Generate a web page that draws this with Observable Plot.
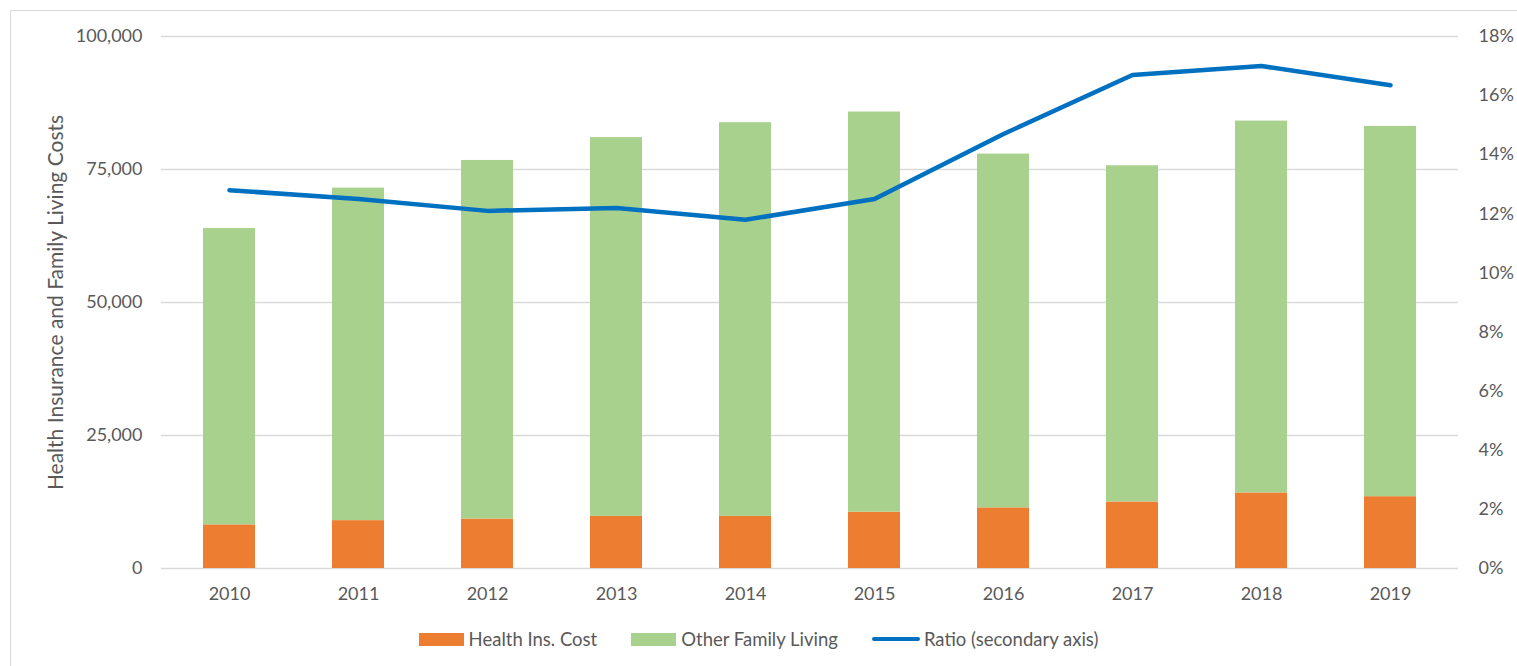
<!DOCTYPE html>
<html>
<head>
<meta charset="utf-8">
<script src="https://cdn.jsdelivr.net/npm/d3@7"></script>
<script src="https://cdn.jsdelivr.net/npm/@observablehq/plot@0.6"></script>
<style>
  html, body { margin: 0; padding: 0; background: #fff; }
  body { width: 1517px; height: 666px; position: relative; overflow: hidden; font-family: Lato, "Open Sans", sans-serif; color: #595959; }
  #frame { position: absolute; left: 10px; top: 10px; width: 1600px; height: 800px; border: 1.5px solid #d9d9d9; box-sizing: border-box; }
  #chart { position: absolute; left: 0; top: 0; }
  #chart g[aria-label="y-axis label"] text { font-size: 21px; }
  #legend { position: absolute; left: 0; top: 628px; width: 1517px; display: flex; justify-content: center; align-items: center; font-size: 18.5px; color: #595959; }
  .item { display: flex; align-items: center; margin: 0 17px; }
  .sw { width: 45px; height: 13px; margin-right: 5px; }
  .ln { width: 48px; height: 4px; border-radius: 2px; margin-right: 4px; }
</style>
</head>
<body>
<div id="frame"></div>
<div id="chart"></div>
<div id="legend"></div>
<script>
const years = ["2010","2011","2012","2013","2014","2015","2016","2017","2018","2019"];
const healthCost = [8200, 9000, 9300, 9800, 9800, 10600, 11400, 12500, 14200, 13500];
const otherLiving = [55700, 62500, 67400, 71200, 74000, 75200, 66500, 63200, 69900, 69600];
const ratioPct = [12.8, 12.5, 12.1, 12.2, 11.8, 12.5, 14.7, 16.7, 17.0, 16.35];
const leftTicks = [0, 25000, 50000, 75000, 100000];
const rightTicksPct = [0, 2, 4, 6, 8, 10, 12, 14, 16, 18];
const seriesNames = ["Health Ins. Cost", "Other Family Living"];
const seriesColors = ["#ED7D31", "#A9D18E"];
const lineName = "Ratio (secondary axis)";
const lineColor = "#0070C0";

const yMax = 100000, pctMax = 18;
const toY = p => p * yMax / pctMax;

const barData = [];
years.forEach((y, i) => {
  barData.push({year: y, series: seriesNames[0], value: healthCost[i]});
  barData.push({year: y, series: seriesNames[1], value: otherLiving[i]});
});
const lineData = years.map((y, i) => ({year: y, ratio: ratioPct[i]}));

const plot = Plot.plot({
  width: 1517,
  height: 620,
  marginTop: 36,
  marginBottom: 52,
  marginLeft: 161,
  marginRight: 59,
  style: {fontFamily: "Lato, 'Open Sans', sans-serif", fontSize: "18px", color: "#595959", background: "transparent", overflow: "visible"},
  x: {domain: years, paddingInner: 0.6, paddingOuter: 0.3, label: null},
  y: {domain: [0, yMax], label: null},
  color: {domain: seriesNames, range: seriesColors},
  marks: [
    Plot.gridY(leftTicks, {stroke: "#d9d9d9", strokeOpacity: 1, strokeWidth: 1.5}),
    Plot.barY(barData, {x: "year", y: "value", fill: "series", order: seriesNames}),
    Plot.lineY(lineData, {x: "year", y: d => toY(d.ratio), stroke: lineColor, strokeWidth: 4.5, strokeLinecap: "round", strokeLinejoin: "round"}),
    Plot.axisY(leftTicks, {anchor: "left", tickSize: 0, tickPadding: 19, tickFormat: d3.format(","),
      label: "Health Insurance and Family Living Costs", labelAnchor: "center", labelArrow: "none", labelOffset: 113, fill: "#595959"}),
    Plot.axisY(rightTicksPct.map(toY), {anchor: "right", tickSize: 0, tickPadding: 20,
      tickFormat: d => Math.round(d * pctMax / yMax) + "%", label: null, fill: "#595959"}),
    Plot.axisX({tickSize: 0, tickPadding: 19, label: null, fill: "#595959"})
  ]
});
document.getElementById("chart").appendChild(plot);

const legend = document.getElementById("legend");
seriesNames.forEach((name, i) => {
  const it = document.createElement("div");
  it.className = "item";
  it.innerHTML = `<div class="sw" style="background:${seriesColors[i]}"></div><span>${name}</span>`;
  legend.appendChild(it);
});
const li = document.createElement("div");
li.className = "item";
li.innerHTML = `<div class="ln" style="background:${lineColor}"></div><span>${lineName}</span>`;
legend.appendChild(li);
</script>
</body>
</html>
